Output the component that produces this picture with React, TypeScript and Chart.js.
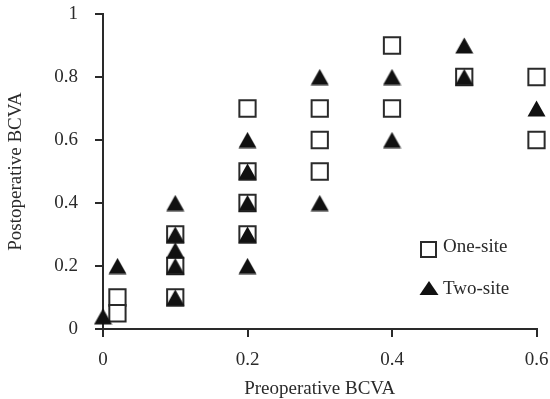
import React, { useEffect, useRef } from "react";
import { Chart, registerables } from "chart.js";

Chart.register(...registerables);

const oneSiteX = [0.02, 0.02, 0.1, 0.1, 0.1, 0.2, 0.2, 0.2, 0.2, 0.3, 0.3, 0.3, 0.4, 0.4, 0.5, 0.6, 0.6];
const oneSiteY = [0.1, 0.05, 0.3, 0.2, 0.1, 0.7, 0.5, 0.4, 0.3, 0.7, 0.6, 0.5, 0.9, 0.7, 0.8, 0.8, 0.6];
const twoSiteX = [0, 0.02, 0.1, 0.1, 0.1, 0.1, 0.1, 0.2, 0.2, 0.2, 0.2, 0.2, 0.3, 0.3, 0.4, 0.4, 0.5, 0.5, 0.6];
const twoSiteY = [0.04, 0.2, 0.4, 0.3, 0.25, 0.2, 0.1, 0.6, 0.5, 0.4, 0.3, 0.2, 0.8, 0.4, 0.8, 0.6, 0.9, 0.8, 0.7];
const legendLabels = ["One-site", "Two-site"];
const xTicks = [0, 0.2, 0.4, 0.6];
const yTicks = [0, 0.2, 0.4, 0.6, 0.8, 1];

const FONT = "'Liberation Serif', 'Times New Roman', serif";
const INK = "#2a2a2a";

function makeTriangle(w: number, h: number): HTMLCanvasElement {
  const c = document.createElement("canvas");
  c.width = w;
  c.height = h;
  const g = c.getContext("2d")!;
  g.fillStyle = "#111";
  g.beginPath();
  g.moveTo(w / 2, 0.5);
  g.lineTo(w - 0.5, h - 0.5);
  g.lineTo(0.5, h - 0.5);
  g.closePath();
  g.fill();
  return c;
}

const legendPlugin = {
  id: "customLegend",
  afterDraw(chart: any) {
    const ctx = chart.ctx;
    ctx.save();
    ctx.fillStyle = "#fff";
    ctx.strokeStyle = INK;
    ctx.lineWidth = 2;
    ctx.beginPath();
    ctx.rect(421, 242, 15, 15);
    ctx.fill();
    ctx.stroke();
    ctx.fillStyle = "#111";
    ctx.beginPath();
    ctx.moveTo(429, 281);
    ctx.lineTo(438.5, 295);
    ctx.lineTo(419.5, 295);
    ctx.closePath();
    ctx.fill();
    ctx.font = `19px ${FONT}`;
    ctx.fillStyle = INK;
    ctx.textBaseline = "middle";
    ctx.textAlign = "left";
    ctx.fillText(legendLabels[0], 443, 247);
    ctx.fillText(legendLabels[1], 443, 289);
    ctx.restore();
  },
};

export default function App() {
  const ref = useRef<HTMLCanvasElement | null>(null);
  useEffect(() => {
    if (!ref.current) return;
    const fmt = (v: any) => String(Math.round(Number(v) * 10) / 10);
    const tri = makeTriangle(19, 17);
    const chart = new Chart(ref.current, {
      type: "scatter",
      data: {
        datasets: [
          {
            label: legendLabels[1],
            data: twoSiteX.map((x, i) => ({ x, y: twoSiteY[i] })),
            pointStyle: tri,
            pointRadius: 10,
            pointHoverRadius: 10,
            backgroundColor: "#111",
            borderColor: "#111",
            borderWidth: 0,
            clip: false,
          } as any,
          {
            label: legendLabels[0],
            data: oneSiteX.map((x, i) => ({ x, y: oneSiteY[i] })),
            pointStyle: "rect",
            pointRadius: 11.5,
            pointHoverRadius: 11.5,
            backgroundColor: "#fff",
            borderColor: INK,
            borderWidth: 2,
            clip: false,
          } as any,
        ],
      },
      options: {
        responsive: false,
        animation: false,
        devicePixelRatio: 1,
        layout: { padding: { top: 14, right: 9, left: 0, bottom: 0 } },
        plugins: { legend: { display: false }, tooltip: { enabled: false } },
        scales: {
          x: {
            type: "linear",
            min: 0,
            max: 0.6,
            afterBuildTicks: (s: any) => {
              s.ticks = xTicks.map((v) => ({ value: v }));
            },
            afterFit: (s: any) => {
              s.height = 70;
              s.paddingLeft = 0;
              s.paddingRight = 0;
            },
            grid: { drawOnChartArea: false, drawTicks: true, tickLength: 8, color: INK, lineWidth: 2 },
            border: { display: true, color: INK, width: 2 },
            ticks: { callback: fmt, color: INK, font: { family: FONT, size: 19 }, padding: 12, maxRotation: 0 },
            title: {
              display: true,
              text: "Preoperative BCVA",
              color: INK,
              font: { family: FONT, size: 19, lineHeight: 1 },
              padding: { top: 0, bottom: 0 },
            },
          },
          y: {
            type: "linear",
            min: 0,
            max: 1,
            afterBuildTicks: (s: any) => {
              s.ticks = yTicks.map((v) => ({ value: v }));
            },
            afterFit: (s: any) => {
              s.width = 103;
              s.paddingTop = 0;
              s.paddingBottom = 0;
            },
            grid: { drawOnChartArea: false, drawTicks: true, tickLength: 8, color: INK, lineWidth: 2 },
            border: { display: true, color: INK, width: 2 },
            ticks: { callback: fmt, color: INK, font: { family: FONT, size: 19 }, padding: 17 },
            title: {
              display: true,
              text: "Postoperative BCVA",
              color: INK,
              font: { family: FONT, size: 19, lineHeight: 1 },
              padding: { top: 7, bottom: 0 },
            },
          },
        },
      },
      plugins: [legendPlugin],
    } as any);
    return () => chart.destroy();
  }, []);
  return (
    <div style={{ position: "absolute", left: 0, top: 0, width: 550, height: 399, background: "#fff" }}>
      <canvas ref={ref} width={550} height={399} style={{ width: 550, height: 399 }} />
    </div>
  );
}
